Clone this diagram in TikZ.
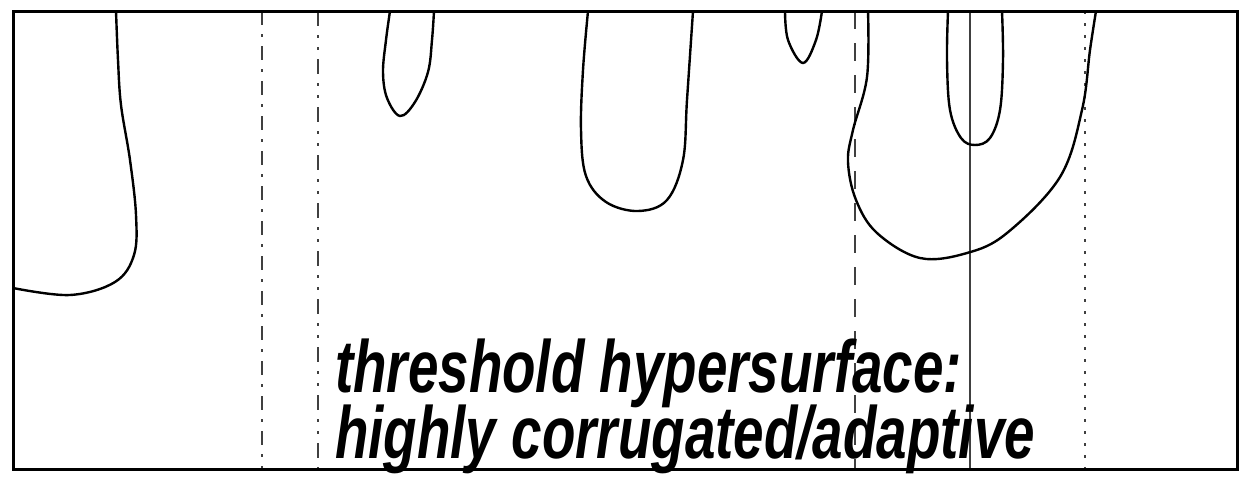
\documentclass[tikz,border=0pt]{standalone}
\usepackage{fontspec}
\newfontfamily\labelfont{Liberation Sans}
\begin{document}
\begin{tikzpicture}[x=1pt, y=-1pt,
    surface/.style={line width=2.4pt, line join=round},
    guide/.style={line width=1.8pt, black!75},
    label/.style={font=\labelfont\bfseries\itshape\fontsize{74}{74}\selectfont,
        xscale=0.74, anchor=base west, inner sep=0pt}]
    \useasboundingbox (0,0) rectangle (1249,477);

    % guide lines
    \draw[guide, dash pattern=on 14pt off 9pt on 3pt off 9pt] (262,11) -- (262,469);
    \draw[guide, dash pattern=on 15pt off 9pt on 3pt off 9pt on 3pt off 9pt] (318,11) -- (318,469);
    \draw[guide, dash pattern=on 18pt off 14pt] (855,11) -- (855,469);
    \draw[guide] (970,11) -- (970,469);
    \draw[guide, dash pattern=on 3pt off 9pt] (1085,11) -- (1085,469);

    % threshold hypersurface
    \draw[surface] plot[smooth, tension=0.6] coordinates {(116,11) (118,60) (121,105)
        (130,160) (136,215) (134,255) (115,282) (70,295) (13,288)};
    \draw[surface] plot[smooth, tension=0.6] coordinates {(390,11) (386,40) (383,72)
        (387,98) (400,116) (415,102) (428,72) (432,40) (434,11)};
    \draw[surface] plot[smooth, tension=0.6] coordinates {(588,11) (583,70) (581,130)
        (586,176) (606,202) (638,211) (667,200) (683,160) (687,100) (693,11)};
    \draw[surface] plot[smooth, tension=0.6] coordinates {(785,11) (788,40) (803,63)
        (816,40) (822,11)};
    \draw[surface] plot[smooth, tension=0.6] coordinates {(868,11) (867,77) (853,130)
        (848,162) (856,200) (877,233) (920,258) (967,253) (1007,233) (1060,177)
        (1082,110) (1090,50) (1096,11)};
    \draw[surface] plot[smooth, tension=0.6] coordinates {(948,11) (947,60) (950,110)
        (961,138) (975,145) (990,138) (1000,110) (1003,60) (1002,11)};

    % frame
    \draw[line width=3pt] (13,11) rectangle (1237,469);

    \node[label] (title) at (335,392) {threshold hypersurface:};
    \node[label] (subtitle) at (335,458) {highly corrugated/adaptive};
\end{tikzpicture}
\end{document}
